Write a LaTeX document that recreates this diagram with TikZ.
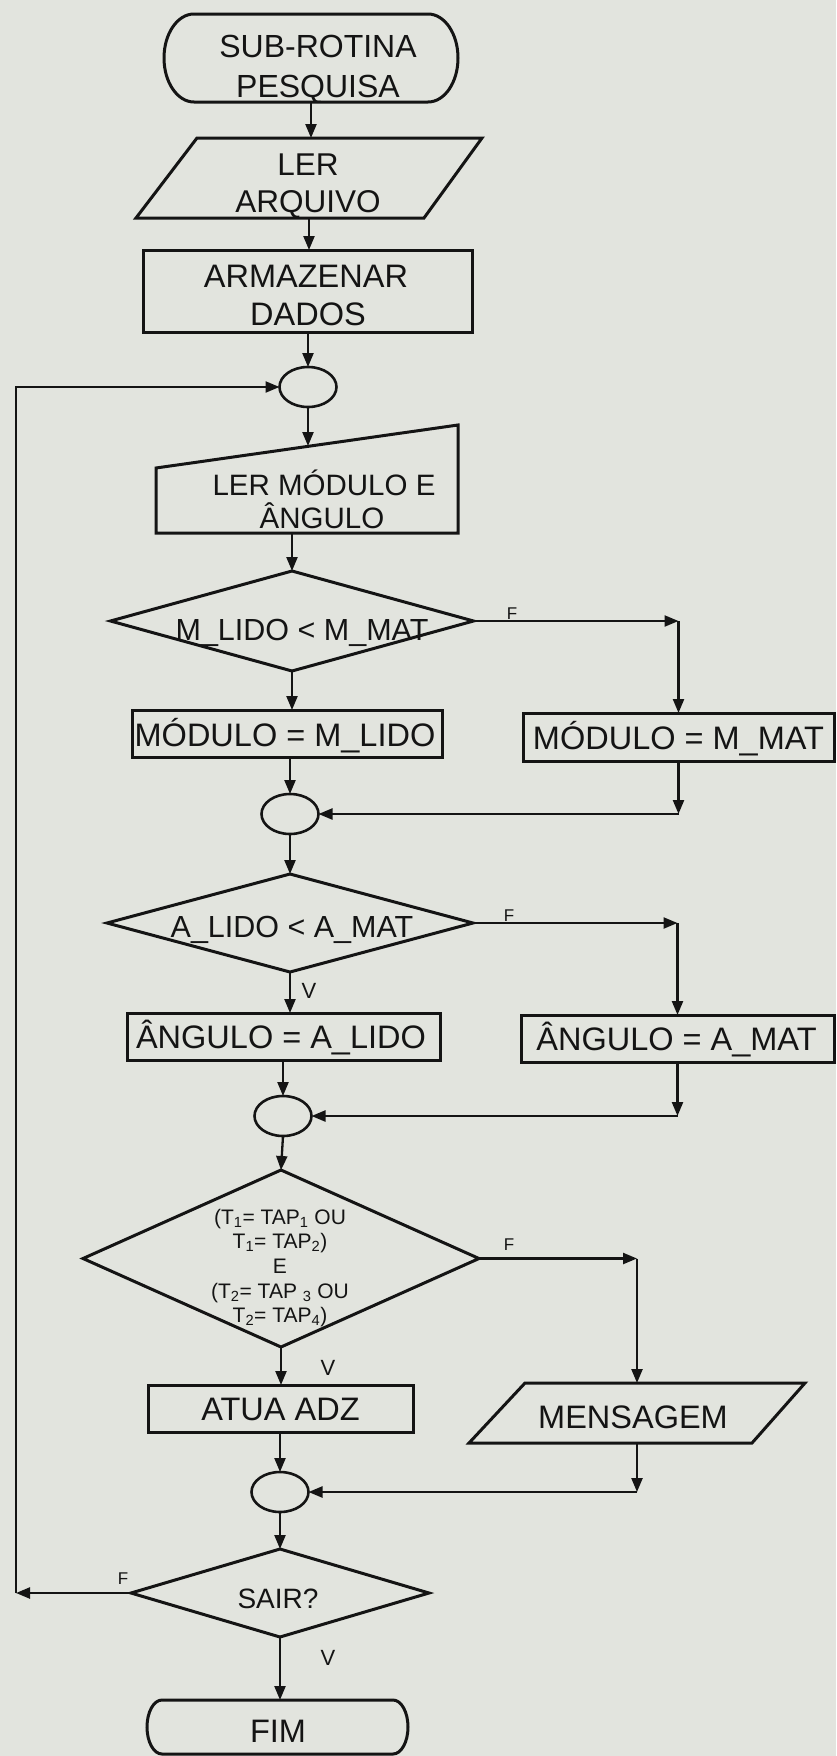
\documentclass[tikz,border=0pt]{standalone}
\usepackage{fontspec}
\setmainfont{Liberation Sans}
\usetikzlibrary{shapes.geometric,arrows.meta,calc}
\definecolor{paper}{RGB}{226,228,222}
\definecolor{ink}{RGB}{20,20,20}
\newcommand\fsz[1]{\fontsize{#1}{#1}\selectfont}
\begin{document}
\begin{tikzpicture}[x=1pt,y=-1pt,
  shp/.style={draw=ink, line width=3pt, line join=miter, inner sep=0pt, outer sep=0pt},
  box/.style={shp, rectangle},
  ovl/.style={shp, line width=2.6pt, ellipse, minimum width=57pt, minimum height=40pt},
  dia/.style={shp, diamond},
  ghost/.style={rectangle, inner sep=0pt, outer sep=0pt},
  txt/.style={anchor=base, inner sep=0pt, text=ink},
  arr/.style={draw=ink, line width=2.3pt, -{Triangle[length=14pt,width=11pt]}}
]
\useasboundingbox (0,0) rectangle (836,1756);
\fill[paper] (0,0) rectangle (836,1756);

% start terminal
\node[ghost, minimum width=294pt, minimum height=88pt] (start) at (311,58) {};
\draw[shp] (194,14) -- (428,14) .. controls (444.6,14) and (458,33.7) .. (458,58)
  .. controls (458,82.3) and (444.6,102) .. (428,102) -- (194,102)
  .. controls (177.4,102) and (164,82.3) .. (164,58)
  .. controls (164,33.7) and (177.4,14) .. (194,14) -- cycle;
\node[txt, font=\fsz{32}] (tstart1) at (318,57) {SUB-ROTINA};
\node[txt, font=\fsz{32}] (tstart2) at (318,97) {PESQUISA};

% LER ARQUIVO
\node[ghost, minimum width=288pt, minimum height=80pt] (ler) at (309,178) {};
\draw[shp] (197,138) -- (482,138) -- (424,218) -- (136,218) -- cycle;
\node[txt, font=\fsz{31.5}] (tler1) at (308,175) {LER};
\node[txt, font=\fsz{31.5}] (tler2) at (308,212) {ARQUIVO};

% ARMAZENAR DADOS
\node[box, minimum width=329pt, minimum height=82pt] (arm) at (307.5,291) {};
\node[txt, font=\fsz{32.5}] (tarm1) at (306,287) {ARMAZENAR};
\node[txt, font=\fsz{32.5}] (tarm2) at (308,325) {DADOS};

\node[ovl] (c1) at (308,387) {};

% manual input
\node[ghost, minimum width=302pt, minimum height=87pt] (mi) at (307,489.5) {};
\draw[shp] (156,468) -- (458,425) -- (458,533) -- (156,533) -- cycle;
\node[txt, font=\fsz{29.5}] (tmi1) at (324,495) {LER MÓDULO E};
\node[txt, font=\fsz{29.5}] (tmi2) at (322,528) {ÂNGULO};

% decision 1
\node[dia, minimum width=363pt, minimum height=100pt] (d1) at (292,621) {};
\node[txt, font=\fsz{30.5}] (td1) at (302,640) {M\_LIDO < M\_MAT};

\node[box, minimum width=310pt, minimum height=47pt] (mlido) at (287,733.5) {};
\node[txt, font=\fsz{32.5}] (tmlido) at (285,746) {MÓDULO = M\_LIDO};
\node[box, minimum width=311pt, minimum height=48pt] (mmat) at (678.5,737) {};
\node[txt, font=\fsz{32.5}] (tmmat) at (678.5,749) {MÓDULO = M\_MAT};

\node[ovl] (c2) at (290,814) {};

% decision 2
\node[dia, minimum width=366pt, minimum height=98pt] (d2) at (290,923) {};
\node[txt, font=\fsz{30.5}] (td2) at (292,937) {A\_LIDO < A\_MAT};

\node[box, minimum width=313pt, minimum height=47pt] (alido) at (283.5,1036.5) {};
\node[txt, font=\fsz{32.5}] (talido) at (281,1048) {ÂNGULO = A\_LIDO};
\node[box, minimum width=313pt, minimum height=47pt] (amat) at (677.5,1038.5) {};
\node[txt, font=\fsz{32.5}] (tamat) at (676.5,1050) {ÂNGULO = A\_MAT};

\node[ovl] (c3) at (283,1116) {};

% decision 3
\node[dia, minimum width=396pt, minimum height=177pt] (d3) at (281,1258.5) {};
\node[txt, font=\fsz{21}] (td31) at (280,1224.5) {(T\textsubscript{1}= TAP\textsubscript{1} OU};
\node[txt, font=\fsz{21}] (td32) at (280,1248.5) {T\textsubscript{1}= TAP\textsubscript{2})};
\node[txt, font=\fsz{21}] (td33) at (280,1273.5) {E};
\node[txt, font=\fsz{21}] (td34) at (280,1298.5) {(T\textsubscript{2}= TAP \textsubscript{3} OU};
\node[txt, font=\fsz{21}] (td35) at (280,1322.5) {T\textsubscript{2}= TAP\textsubscript{4})};

\node[box, minimum width=265pt, minimum height=47pt] (atua) at (280.5,1408.5) {};
\node[txt, font=\fsz{32.5}] (tatua) at (280.5,1420) {ATUA ADZ};

\node[ghost, minimum width=283pt, minimum height=60pt] (msg) at (637,1413) {};
\draw[shp] (525,1383) -- (805,1383) -- (752,1443) -- (469,1443) -- cycle;
\node[txt, font=\fsz{32.5}] (tmsg) at (633,1428) {MENSAGEM};

\node[ovl] (c4) at (280,1492) {};

% decision SAIR
\node[dia, minimum width=298pt, minimum height=88pt] (sair) at (280,1593) {};
\node[txt, font=\fsz{28}] (tsair) at (278,1608) {SAIR?};

% end terminal
\node[ghost, minimum width=261pt, minimum height=54pt] (fim) at (277.5,1727) {};
\draw[shp] (162,1700) -- (393,1700) .. controls (401.3,1700) and (408,1712.1) .. (408,1727)
  .. controls (408,1741.9) and (401.3,1754) .. (393,1754) -- (162,1754)
  .. controls (153.7,1754) and (147,1741.9) .. (147,1727)
  .. controls (147,1712.1) and (153.7,1700) .. (162,1700) -- cycle;
\node[txt, font=\fsz{32.5}] (tfim) at (278,1742) {FIM};

% connectors
\draw[arr] (start.south) -- (start.south |- ler.north);
\draw[arr] (ler.south) -- (ler.south |- arm.north);
\draw[arr] (arm.south -| c1.north) -- (c1.north);
\draw[arr] (c1.south) -- (c1.south |- mi.north);
\draw[arr] (mi.south -| d1.north) -- (d1.north);
\draw[arr] (d1.south) -- (d1.south |- mlido.north);
\draw[arr] (d1.east) -- (d1.east -| mmat.north);
\draw[arr] (d1.east -| mmat.north) -- (mmat.north);
\draw[arr] (mlido.south -| c2.north) -- (c2.north);
\draw[arr] (mmat.south) -- (mmat.south |- c2.east);
\draw[arr] (mmat.south |- c2.east) -- (c2.east);
\draw[arr] (c2.south) -- (d2.north);
\draw[arr] (d2.south) -- (d2.south |- alido.north);
\draw[arr] (d2.east) -- (d2.east -| amat.north);
\draw[arr] (d2.east -| amat.north) -- (amat.north);
\draw[arr] (alido.south -| c3.north) -- (c3.north);
\draw[arr] (amat.south) -- (amat.south |- c3.east);
\draw[arr] (amat.south |- c3.east) -- (c3.east);
\draw[arr] (c3.south) -- (d3.north);
\draw[arr] (d3.south) -- (d3.south |- atua.north);
\draw[arr] (d3.east) -- (d3.east -| msg.north);
\draw[arr] (d3.east -| msg.north) -- (msg.north);
\draw[arr] (atua.south -| c4.north) -- (c4.north);
\draw[arr] (msg.south) -- (msg.south |- c4.east);
\draw[arr] (msg.south |- c4.east) -- (c4.east);
\draw[arr] (c4.south) -- (sair.north);
\draw[arr] (sair.south) -- (sair.south |- fim.north);
\coordinate (loop) at (16,1593);
\draw[arr] (sair.west) -- (loop);
\draw[arr] (loop) |- (c1.west);

% branch labels
\node[txt, font=\fsz{17}] (f1) at (512,619) {F};
\node[txt, font=\fsz{17}] (f2) at (509,921) {F};
\node[txt, font=\fsz{17}] (f3) at (509,1250) {F};
\node[txt, font=\fsz{17}] (f4) at (123,1584) {F};
\node[txt, font=\fsz{22}] (v1) at (309,998) {V};
\node[txt, font=\fsz{22}] (v2) at (328,1375) {V};
\node[txt, font=\fsz{22}] (v3) at (328,1665) {V};
\end{tikzpicture}
\end{document}
